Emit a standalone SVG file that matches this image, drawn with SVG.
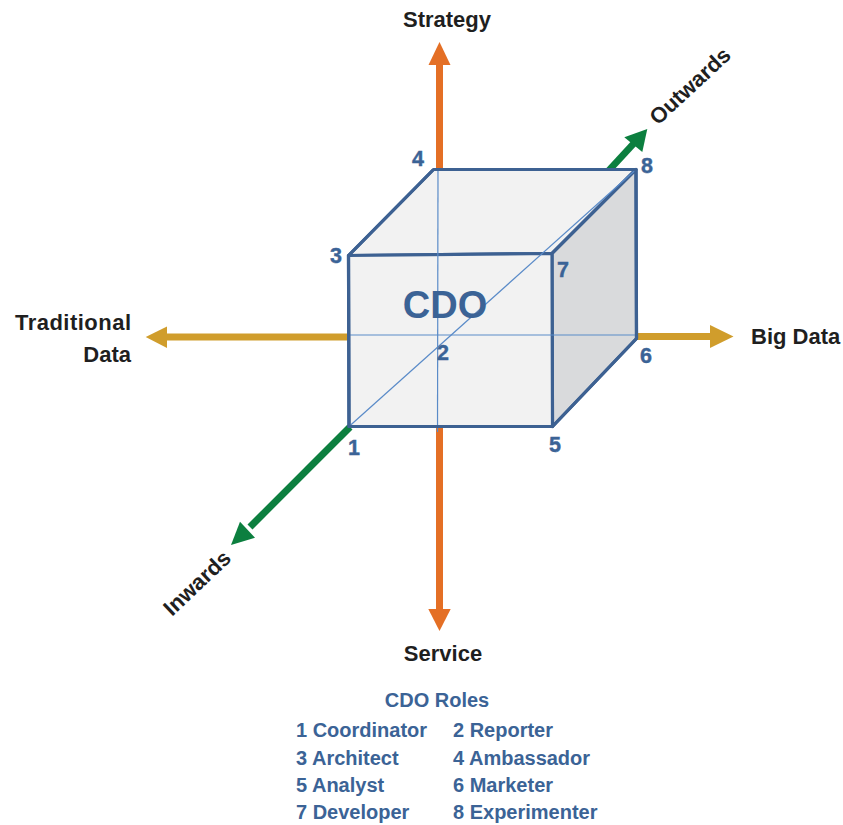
<svg xmlns="http://www.w3.org/2000/svg" width="843" height="825" viewBox="0 0 843 825">
<style>
.ax{font-family:"Liberation Sans",Arial,sans-serif;font-weight:bold;font-size:22px;fill:#1F1F1F}
.num{font-family:"Liberation Sans",Arial,sans-serif;font-weight:bold;font-size:21.5px;fill:#3B6396;stroke:#3B6396;stroke-width:0.4}
.leg{font-family:"Liberation Sans",Arial,sans-serif;font-weight:bold;font-size:20px;fill:#3B6396}
.face{stroke:#3D6192;stroke-width:3.2;stroke-linejoin:round}
.thin{stroke:#5A8BC8;stroke-width:1.2;fill:none}
</style>
<rect width="843" height="825" fill="#FFFFFF"/>
<g id="connectors">
  <g id="axis-strategy-service" fill="#E46F25">
    <rect x="436" y="64" width="7" height="110"/>
    <polygon points="439.5,42 428.5,65 450.5,65"/>
    <rect x="436" y="420" width="7" height="190"/>
    <polygon points="428.3,609 450.7,609 439.5,631"/>
  </g>
  <g id="axis-data" fill="#D09D2C">
    <rect x="165" y="333.5" width="190" height="7"/>
    <polygon points="145.7,337 167,326.5 167,348"/>
    <rect x="630" y="333" width="82" height="7"/>
    <polygon points="733.5,336.5 710,325 710,348"/>
  </g>
  <g id="axis-in-out" stroke="#0C7F3F" stroke-width="7" fill="#0C7F3F">
    <line x1="600" y1="180" x2="636" y2="141"/>
    <polygon stroke="none" points="647.3,129 624.3,137.3 642.3,152"/>
    <line x1="350" y1="427" x2="250" y2="527"/>
    <polygon stroke="none" points="231,545 240,521.7 255,537.7"/>
  </g>
</g>
<g id="cube">
  <polygon class="face" fill="#F2F2F2" points="348.5,255.5 433.5,169.5 636,169.5 552,253.5"/>
  <polygon class="face" fill="#D9DADC" points="552,253.5 636,169.5 636.5,338.5 552.5,426.5"/>
  <polygon class="face" fill="#F2F2F2" points="348.5,255.5 552,253.5 552.5,426.5 349,426.5"/>
  <line class="thin" x1="438" y1="169.5" x2="437.5" y2="432"/>
  <line class="thin" x1="349" y1="335" x2="636" y2="335"/>
  <line class="thin" x1="349" y1="426.5" x2="636" y2="169.5"/>
  <polyline fill="none" stroke="#3D6192" stroke-width="3.2" stroke-linejoin="round" points="433.5,169.5 636,169.5 636.5,338.5 552.5,426.5 349,426.5 348.5,255.5 433.5,169.5"/>
  <text x="445" y="318" text-anchor="middle" style="font-family:'Liberation Sans',Arial,sans-serif;font-weight:bold;font-size:38px;fill:#3B6396">CDO</text>
</g>
<g id="corner-labels">
  <text class="num" x="418" y="166" text-anchor="middle">4</text>
  <text class="num" x="641" y="173">8</text>
  <text class="num" x="330" y="263">3</text>
  <text class="num" x="557" y="277">7</text>
  <text class="num" x="437" y="360">2</text>
  <text class="num" x="640" y="363">6</text>
  <text class="num" x="348" y="455">1</text>
  <text class="num" x="549" y="452">5</text>
</g>
<g id="axis-labels">
  <text class="ax" x="447" y="27" text-anchor="middle">Strategy</text>
  <text class="ax" x="443" y="661" text-anchor="middle">Service</text>
  <text class="ax" x="131" y="330" text-anchor="end" textLength="116">Traditional</text>
  <text class="ax" x="131" y="362" text-anchor="end">Data</text>
  <text class="ax" x="751" y="344">Big Data</text>
  <text class="ax" transform="translate(658,126) rotate(-43)">Outwards</text>
  <text class="ax" transform="translate(172,617) rotate(-43.5)">Inwards</text>
</g>
<g id="legend">
  <text class="leg" x="437" y="707" text-anchor="middle">CDO Roles</text>
  <text class="leg" x="296" y="737">1 Coordinator</text>
  <text class="leg" x="453" y="737">2 Reporter</text>
  <text class="leg" x="296" y="764.5">3 Architect</text>
  <text class="leg" x="453" y="764.5">4 Ambassador</text>
  <text class="leg" x="296" y="791.5">5 Analyst</text>
  <text class="leg" x="453" y="791.5">6 Marketer</text>
  <text class="leg" x="296" y="819">7 Developer</text>
  <text class="leg" x="453" y="819">8 Experimenter</text>
</g>
</svg>
